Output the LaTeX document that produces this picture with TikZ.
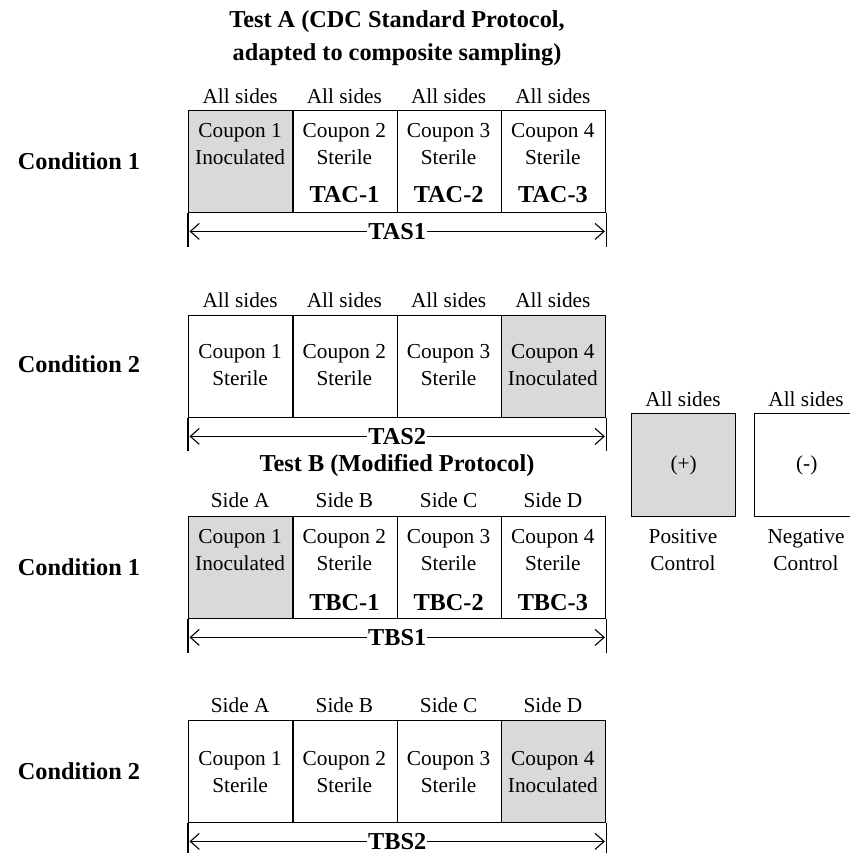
\documentclass[tikz,border=0pt]{standalone}
\usepackage{fontspec}
\setmainfont{Liberation Serif}
\usetikzlibrary{arrows.meta}
\definecolor{cellgray}{HTML}{D9D9D9}
\tikzset{
  cell/.style={draw, line width=1.4pt, minimum width=104.25pt, minimum height=102pt, inner sep=0pt, anchor=north west},
  lbl/.style={font=\fontsize{21.3}{27}\selectfont, align=center, inner sep=0pt},
  boldtxt/.style={font=\fontsize{24.3}{33}\selectfont\bfseries, align=center, inner sep=0pt},
  brk/.style={line width=1.4pt},
  spanarrow/.style={line width=1.1pt, {Straight Barb[length=9pt,width=16pt]}-{Straight Barb[length=9pt,width=16pt]}},
  tag/.style={boldtxt, fill=white, inner xsep=1pt, inner ysep=0pt},
}
\begin{document}
\begin{tikzpicture}[x=1pt,y=-1pt]
\useasboundingbox (0,0) rectangle (850,853);
\clip (0,0) rectangle (850,853);
% titles
\node[boldtxt] (titleA1) at (397,22) {Test A (CDC Standard Protocol,};
\node[boldtxt] (titleA2) at (397,55) {adapted to composite sampling)};
\node[boldtxt] (titleB) at (397,466) {Test B (Modified Protocol)};
% condition labels
\node[boldtxt] (cond1) at (79,161) {Condition 1};
\node[boldtxt] (cond2) at (79,364) {Condition 2};
\node[boldtxt] (cond3) at (79,567) {Condition 1};
\node[boldtxt] (cond4) at (79,771) {Condition 2};
% ---------- Row 1 ----------
\foreach \i/\f/\t in {1/cellgray/Inoculated,2/white/Sterile,3/white/Sterile,4/white/Sterile}{
  \node[cell, fill=\f] (r1c\i) at ({188+104.25*(\i-1)},110) {};
  \node[lbl] (r1h\i) at ({188+104.25*(\i-0.5)},96) {All sides};
  \node[lbl] (r1t\i) at ({188+104.25*(\i-0.5)},144.5) {Coupon \i\\\t};
}
\foreach \i/\c in {2/TAC-1,3/TAC-2,4/TAC-3}{
  \node[boldtxt] (r1k\i) at ({188+104.25*(\i-0.5)},195) {\c};
}
\coordinate (r1L) at ([yshift=-34pt]r1c1.south west);
\coordinate (r1R) at ([yshift=-34pt]r1c4.south east);
\draw[brk] (r1c1.south west) -- (r1L);
\draw[brk] (r1c4.south east) -- (r1R);
\draw[spanarrow] ([yshift=-18pt,xshift=1.5pt]r1c1.south west) -- node[tag] (r1s) {TAS1} ([yshift=-18pt,xshift=-1.5pt]r1c4.south east);
% ---------- Row 2 ----------
\foreach \i/\f/\t in {1/white/Sterile,2/white/Sterile,3/white/Sterile,4/cellgray/Inoculated}{
  \node[cell, fill=\f] (r2c\i) at ({188+104.25*(\i-1)},315) {};
  \node[lbl] (r2h\i) at ({188+104.25*(\i-0.5)},300) {All sides};
  \node[lbl] (r2t\i) at ({188+104.25*(\i-0.5)},365.5) {Coupon \i\\\t};
}
\coordinate (r2L) at ([yshift=-33pt]r2c1.south west);
\coordinate (r2R) at ([yshift=-33pt]r2c4.south east);
\draw[brk] (r2c1.south west) -- (r2L);
\draw[brk] (r2c4.south east) -- (r2R);
\draw[spanarrow] ([yshift=-18pt,xshift=1.5pt]r2c1.south west) -- node[tag] (r2s) {TAS2} ([yshift=-18pt,xshift=-1.5pt]r2c4.south east);
% ---------- Row 3 ----------
\foreach \i/\f/\t/\s in {1/cellgray/Inoculated/A,2/white/Sterile/B,3/white/Sterile/C,4/white/Sterile/D}{
  \node[cell, fill=\f] (r3c\i) at ({188+104.25*(\i-1)},516) {};
  \node[lbl] (r3h\i) at ({188+104.25*(\i-0.5)},500) {Side \s};
  \node[lbl] (r3t\i) at ({188+104.25*(\i-0.5)},550) {Coupon \i\\\t};
}
\foreach \i/\c in {2/TBC-1,3/TBC-2,4/TBC-3}{
  \node[boldtxt] (r3k\i) at ({188+104.25*(\i-0.5)},603) {\c};
}
\coordinate (r3L) at ([yshift=-34pt]r3c1.south west);
\coordinate (r3R) at ([yshift=-34pt]r3c4.south east);
\draw[brk] (r3c1.south west) -- (r3L);
\draw[brk] (r3c4.south east) -- (r3R);
\draw[spanarrow] ([yshift=-18pt,xshift=1.5pt]r3c1.south west) -- node[tag] (r3s) {TBS1} ([yshift=-18pt,xshift=-1.5pt]r3c4.south east);
% ---------- Row 4 ----------
\foreach \i/\f/\t/\s in {1/white/Sterile/A,2/white/Sterile/B,3/white/Sterile/C,4/cellgray/Inoculated/D}{
  \node[cell, fill=\f] (r4c\i) at ({188+104.25*(\i-1)},720) {};
  \node[lbl] (r4h\i) at ({188+104.25*(\i-0.5)},705) {Side \s};
  \node[lbl] (r4t\i) at ({188+104.25*(\i-0.5)},772.5) {Coupon \i\\\t};
}
\coordinate (r4L) at ([yshift=-40pt]r4c1.south west);
\coordinate (r4R) at ([yshift=-40pt]r4c4.south east);
\draw[brk] (r4c1.south west) -- (r4L);
\draw[brk] (r4c4.south east) -- (r4R);
\draw[spanarrow] ([yshift=-18pt,xshift=1.5pt]r4c1.south west) -- node[tag] (r4s) {TBS2} ([yshift=-18pt,xshift=-1.5pt]r4c4.south east);
% ---------- Controls ----------
\node[cell, fill=cellgray, minimum width=104pt, minimum height=103pt] (pos) at (631,413) {};
\node[cell, fill=white, minimum width=104pt, minimum height=103pt] (neg) at (754,413) {};
\node[lbl] (posh) at (683,399) {All sides};
\node[lbl] (negh) at (806,399) {All sides};
\node[lbl] (post) at (pos.center) {(+)};
\node[lbl] (negt) at (neg.center) {(-)};
\node[lbl] (posl) at (683,550) {Positive\\Control};
\node[lbl] (negl) at (806,550) {Negative\\Control};
\end{tikzpicture}
\end{document}
